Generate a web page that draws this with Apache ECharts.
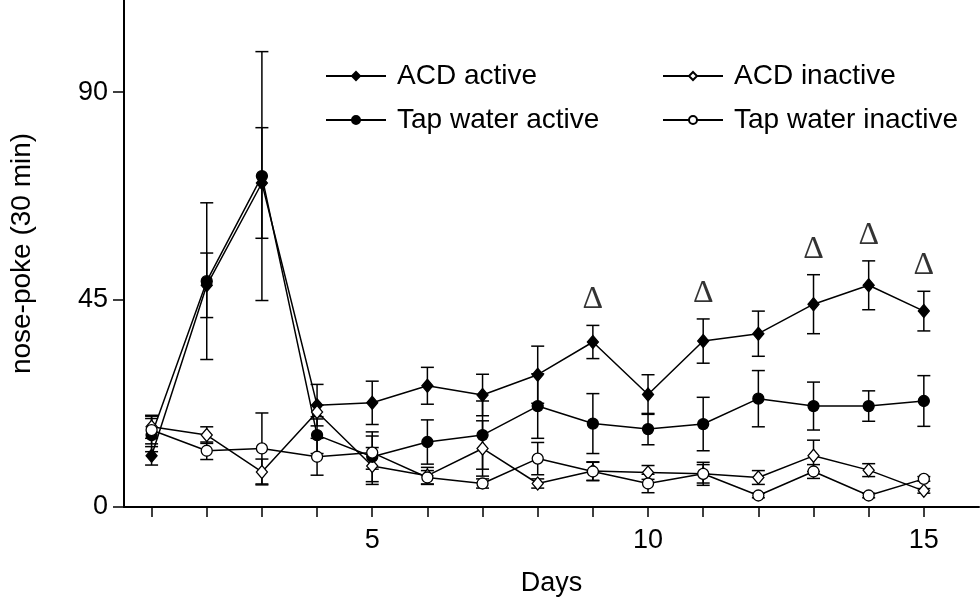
<!DOCTYPE html>
<html>
<head>
<meta charset="utf-8">
<script src="https://cdn.jsdelivr.net/npm/echarts@6/dist/echarts.min.js"></script>
<style>
  html, body { margin: 0; padding: 0; background: #fff; }
  #chart { width: 980px; height: 598px; }
</style>
</head>
<body>
<div id="chart"></div>
<script>
// values (mean and SE per day)
const days = [1, 2, 3, 4, 5, 6, 7, 8, 9, 10, 11, 12, 13, 14, 15];
const dayLabels = [5, 10, 15];
const yTicks = [0, 45, 90];

const acdActive = [11.1, 48.1, 70.3, 22.1, 22.6, 26.3, 24.3, 28.7, 35.8, 24.4, 36.0, 37.6, 44.0, 48.1, 42.5];
const acdActiveSe = [2.0, 7.0, 12.0, 4.5, 4.7, 4.0, 4.5, 6.2, 3.6, 4.3, 4.8, 4.9, 6.4, 5.3, 4.3];

const acdInactive = [17.4, 15.6, 7.6, 20.6, 8.9, 6.8, 12.7, 5.1, 7.8, 7.5, 7.2, 6.4, 11.1, 8.0, 3.5];
const acdInactiveSe = [2.5, 1.8, 2.8, 1.5, 4.0, 1.8, 6.0, 1.0, 2.0, 1.5, 2.0, 1.5, 3.4, 1.4, 0.5];

const tapActive = [15.6, 49.0, 71.8, 15.6, 10.9, 14.1, 15.6, 21.9, 18.1, 16.9, 18.0, 23.5, 21.9, 21.9, 23.0];
const tapActiveSe = [3.6, 17.0, 27.0, 4.0, 5.4, 4.8, 7.4, 7.0, 6.5, 3.4, 5.8, 6.1, 5.2, 3.3, 5.5];

const tapInactive = [16.7, 12.2, 12.7, 10.9, 11.8, 6.4, 5.1, 10.5, 7.7, 5.1, 7.2, 2.5, 7.7, 2.5, 6.1];
const tapInactiveSe = [3.0, 1.9, 7.7, 4.0, 3.6, 1.5, 1.0, 3.5, 2.0, 2.0, 2.5, 0.5, 1.5, 0.5, 0.5];

// days marked with a delta above the ACD active bar
const markedDays = [9, 11, 13, 14, 15];

const font = 'Liberation Sans, Arial, sans-serif';

function pairs(vals) {
  return days.map((d, i) => [d, vals[i]]);
}

function errorSeries(key, vals, se) {
  return {
    type: 'custom',
    name: key + ' SE',
    silent: true,
    animation: false,
    z: 1,
    data: days.map((d, i) => [d, vals[i] - se[i], vals[i] + se[i]]),
    encode: { x: 0, y: [1, 2] },
    renderItem: (params, api) => {
      const lo = api.coord([api.value(0), api.value(1)]);
      const hi = api.coord([api.value(0), api.value(2)]);
      const w = 6.5;
      const style = { stroke: '#000', lineWidth: 1.5, fill: null };
      return {
        type: 'group',
        children: [
          { type: 'line', shape: { x1: lo[0], y1: lo[1], x2: hi[0], y2: hi[1] }, style: style },
          { type: 'line', shape: { x1: lo[0] - w, y1: lo[1], x2: lo[0] + w, y2: lo[1] }, style: style },
          { type: 'line', shape: { x1: hi[0] - w, y1: hi[1], x2: hi[0] + w, y2: hi[1] }, style: style }
        ]
      };
    }
  };
}

function lineSeries(name, vals, symbol, size, filled) {
  return {
    type: 'line',
    name: name,
    data: pairs(vals),
    symbol: symbol,
    symbolSize: size,
    showAllSymbol: true,
    z: 3,
    animation: false,
    lineStyle: { color: '#000', width: 1.5 },
    itemStyle: { color: filled ? '#000' : '#fff', borderColor: '#000', borderWidth: 1.3 },
    emphasis: { disabled: true }
  };
}

const deltaData = markedDays.map(d => {
  const i = days.indexOf(d);
  return [d, acdActive[i] + acdActiveSe[i]];
});

const legendText = { fontFamily: font, fontSize: 28, color: '#000', padding: [0, 0, 0, 6] };

const option = {
  backgroundColor: '#fff',
  animation: false,
  grid: { left: 124, right: 1, top: 0, bottom: 91, outerBoundsMode: 'none' },
  legend: [
    {
      left: 320, top: 57, orient: 'vertical', itemWidth: 60, itemHeight: 10, itemGap: 16,
      data: ['ACD active', 'Tap water active'],
      textStyle: legendText, selectedMode: false
    },
    {
      left: 657, top: 57, orient: 'vertical', itemWidth: 60, itemHeight: 10, itemGap: 16,
      data: ['ACD inactive', 'Tap water inactive'],
      textStyle: legendText, selectedMode: false
    }
  ],
  xAxis: {
    type: 'value',
    min: 0.5,
    max: 16,
    name: 'Days',
    nameLocation: 'middle',
    nameGap: 63,
    nameTextStyle: { fontFamily: font, fontSize: 27, color: '#000' },
    axisLine: { lineStyle: { color: '#000', width: 2 } },
    axisTick: { customValues: days, length: 10, lineStyle: { color: '#000', width: 1.5 } },
    axisLabel: { customValues: dayLabels, fontFamily: font, fontSize: 27, color: '#000', margin: 20 },
    splitLine: { show: false }
  },
  yAxis: {
    type: 'value',
    min: 0,
    max: 110,
    name: 'nose-poke (30 min)',
    nameLocation: 'middle',
    nameRotate: 90,
    nameGap: 88,
    nameTextStyle: { fontFamily: font, fontSize: 28, color: '#000' },
    axisLine: { show: true, lineStyle: { color: '#000', width: 2 } },
    axisTick: { show: true, customValues: yTicks, length: 11, lineStyle: { color: '#000', width: 1.5 } },
    axisLabel: { customValues: yTicks, fontFamily: font, fontSize: 27, color: '#000', margin: 16 },
    splitLine: { show: false }
  },
  series: [
    errorSeries('ACD active', acdActive, acdActiveSe),
    errorSeries('ACD inactive', acdInactive, acdInactiveSe),
    errorSeries('Tap water active', tapActive, tapActiveSe),
    errorSeries('Tap water inactive', tapInactive, tapInactiveSe),
    lineSeries('ACD active', acdActive, 'diamond', [11, 13], true),
    lineSeries('ACD inactive', acdInactive, 'diamond', [11, 13], false),
    lineSeries('Tap water active', tapActive, 'circle', 11, true),
    lineSeries('Tap water inactive', tapInactive, 'circle', 11, false),
    {
      type: 'scatter',
      name: 'delta',
      data: deltaData,
      symbolSize: 1,
      itemStyle: { color: 'rgba(0,0,0,0)' },
      silent: true,
      z: 4,
      label: {
        show: true,
        position: 'top',
        distance: 9,
        formatter: 'Δ',
        fontFamily: 'Liberation Serif, Times New Roman, serif',
        fontSize: 32,
        color: '#000'
      }
    }
  ]
};

const chart = echarts.init(document.getElementById('chart'));
chart.setOption(option);
</script>
</body>
</html>
